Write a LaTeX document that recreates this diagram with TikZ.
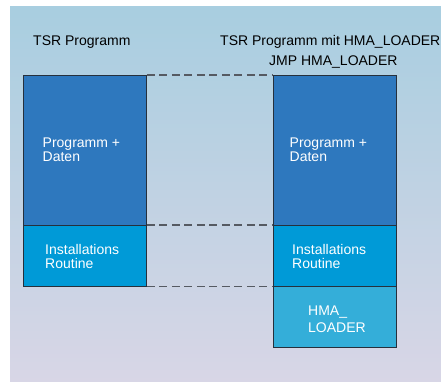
\documentclass[tikz,border=0pt]{standalone}
\usepackage{fontspec}
\setmainfont{Liberation Sans}
\definecolor{bgtop}{HTML}{A8CEE0}
\definecolor{bgbot}{HTML}{D8D6E6}
\definecolor{progblue}{HTML}{2E78BE}
\definecolor{instblue}{HTML}{009AD7}
\definecolor{hmablue}{HTML}{34AED9}
\definecolor{edge}{HTML}{26303C}
\definecolor{dashgray}{HTML}{555A62}
\begin{document}
\begin{tikzpicture}[x=1pt,y=-1pt,
  block/.style={draw=edge, line width=0.9pt, minimum width=123pt, inner sep=0pt, anchor=north west},
  heading/.style={anchor=base west, inner sep=0pt, text=black, font=\fontsize{14}{14}\selectfont},
  inlabel/.style={anchor=base west, inner sep=0pt, text=white, align=left, font=\fontsize{14}{14}\selectfont},
  link/.style={draw=dashgray, line width=1.1pt, dash pattern=on 8pt off 4.5pt}]
  \useasboundingbox (0,0) rectangle (441,381);
  % background panel
  \shade[top color=bgtop, bottom color=bgbot] (10,6) rectangle (441,381);

  % headings
  \node[heading] (h1) at (33,45) {TSR Programm};
  \node[heading] (h2) at (220,45) {TSR Programm mit HMA\_LOADER};
  \node[heading] (h3) at (269,65) {JMP HMA\_LOADER};

  % left memory layout
  \node[block, fill=progblue, minimum height=150pt] (prog1) at (23,75) {};
  \node[block, fill=instblue, minimum height=61pt] (inst1) at (23,225) {};
  % right memory layout
  \node[block, fill=progblue, minimum height=150pt] (prog2) at (273,75) {};
  \node[block, fill=instblue, minimum height=61pt] (inst2) at (273,225) {};
  \node[block, fill=hmablue, minimum height=61pt] (hma) at (273,286) {};

  % box labels (anchored on the baseline of their last line)
  \node[inlabel] (t1) at (42.5,161) {Programm +\\Daten};
  \node[inlabel] (t2) at (45,268) {Installations\\Routine};
  \node[inlabel] (t3) at (289.5,161) {Programm +\\Daten};
  \node[inlabel] (t4) at (292,268) {Installations\\Routine};
  \node[inlabel, font=\fontsize{14}{17}\selectfont] (t5) at (308,332) {HMA\_\\LOADER};

  % dashed guides between layouts
  \draw[link] (prog1.north east) -- (prog2.north west);
  \draw[link] (inst1.north east) -- (inst2.north west);
  \draw[link] (inst1.south east) -- (inst2.south west);
\end{tikzpicture}
\end{document}
